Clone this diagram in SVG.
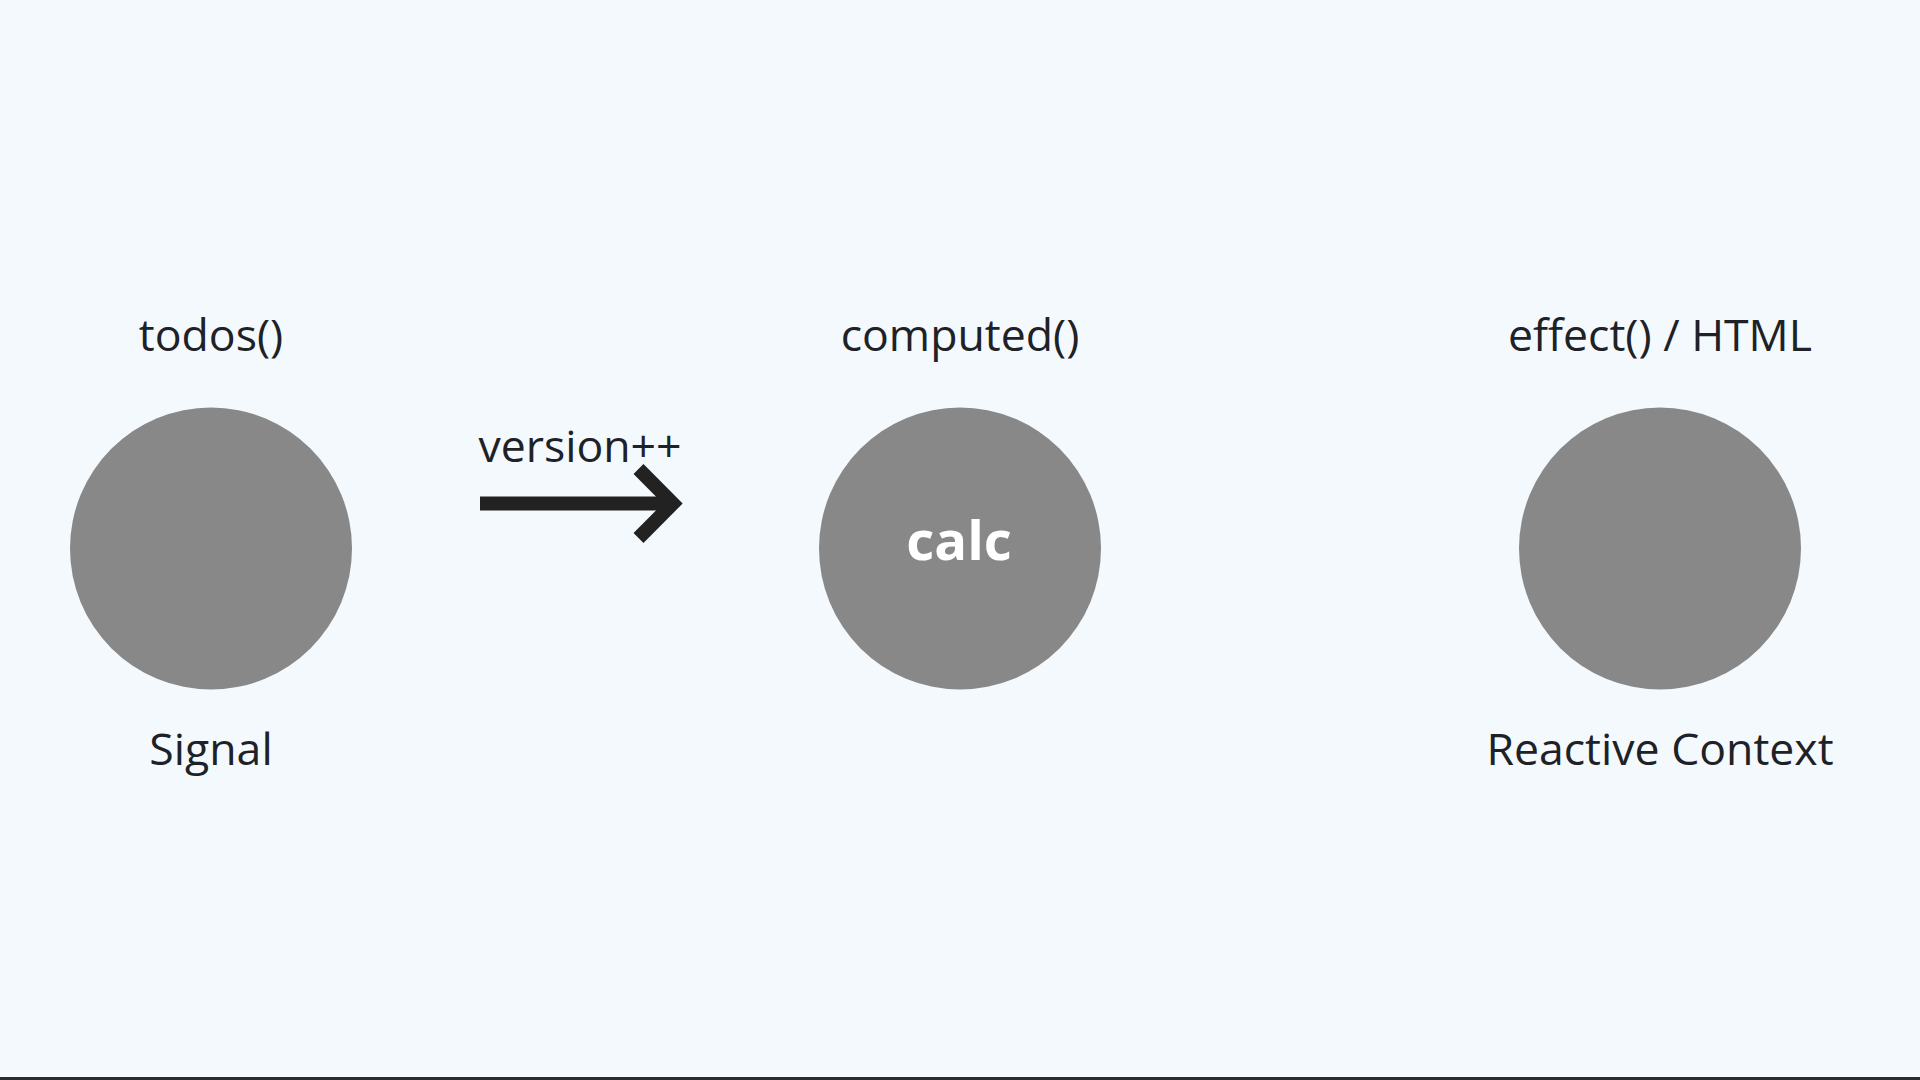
<svg xmlns="http://www.w3.org/2000/svg" width="1920" height="1080" viewBox="0 0 1920 1080">
<style>
.lbl{font-family:"Open Sans","Noto Sans","DejaVu Sans",sans-serif;font-size:44.6px;fill:#1e2226;text-anchor:middle}
.node{fill:#888888}
.inner{font-family:"Open Sans","Noto Sans","DejaVu Sans",sans-serif;font-size:54.5px;font-weight:bold;fill:#ffffff;text-anchor:middle}
.conn{stroke:#222222;stroke-width:14;fill:none}
</style>
<rect x="0" y="0" width="1920" height="1080" fill="#f4f9fd"/>
<rect x="0" y="1077" width="1920" height="3" fill="#2a2d30"/>
<g id="node-signal">
<text class="lbl" x="211" y="351">todos()</text>
<circle class="node" cx="211" cy="548.5" r="141"/>
<text class="lbl" x="211" y="765">Signal</text>
</g>
<g id="node-computed">
<text class="lbl" x="960" y="351">computed()</text>
<circle class="node" cx="960" cy="548.5" r="141"/>
<text class="inner" x="959" y="559.5">calc</text>
</g>
<g id="node-effect">
<text class="lbl" x="1660" y="351">effect() / HTML</text>
<circle class="node" cx="1660" cy="548.5" r="141"/>
<text class="lbl" x="1660" y="765">Reactive Context</text>
</g>
<g id="connectors">
<text class="lbl" x="580" y="462">version++</text>
<line class="conn" x1="480" y1="503.5" x2="672" y2="503.5"/>
<polyline class="conn" points="638.5,469 672.8,503.5 638.5,538" stroke-linejoin="miter" stroke-miterlimit="10"/>
</g>
</svg>
